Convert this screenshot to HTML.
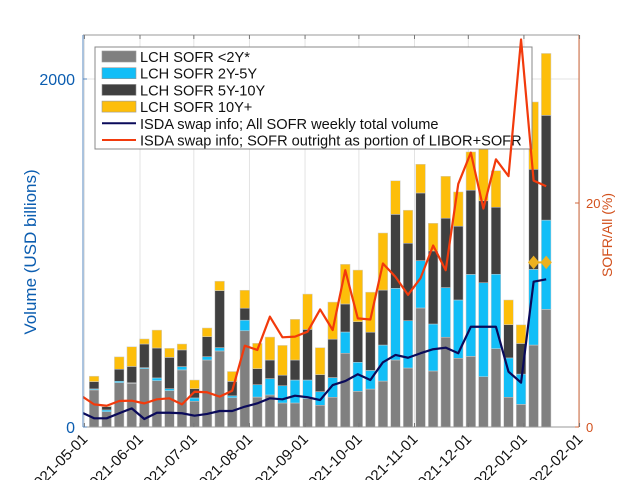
<!DOCTYPE html>
<html><head><meta charset="utf-8"><style>
body{margin:0;background:#fff;}
svg{display:block;font-family:"Liberation Sans",sans-serif;}
</style></head><body>
<svg id="chart" width="640" height="480" viewBox="0 0 640 480" xmlns="http://www.w3.org/2000/svg"></svg>
<script>
const gray=[213,88,255,251,335,266,209,328,148,385,437,168,553,172,184,138,138,163,125,171,424,205,218,264,385,339,684,322,516,395,406,289,450,171,130,471,676];
const blue=[6,10,8,3,6,16,11,19,19,19,19,11,61,71,94,99,132,107,78,113,122,167,107,207,412,272,272,270,285,335,471,540,428,226,174,435,513];
const dark=[42,19,69,94,136,172,180,96,53,115,328,83,69,92,107,61,115,291,98,221,161,233,220,316,425,445,389,420,399,424,484,471,385,191,176,575,602];
const yellow=[31,4,71,113,29,103,52,34,50,50,54,57,103,146,132,171,234,203,155,213,228,297,230,328,193,190,165,159,241,197,220,301,210,142,107,387,356];
const total=[84,50,50,79,107,46,82,82,79,65,75,92,92,117,136,165,159,180,171,155,241,264,303,270,372,414,398,424,447,456,424,576,576,576,318,255,835,849];
const pct=[2.77,2.02,1.9,2.32,2.35,2.11,2.47,2.56,2.02,3.15,3.1,2.71,3.24,7.26,6.88,9.85,8.01,8.07,8.51,10.5,8.66,14.0,9.7,9.6,14.6,13.4,11.8,13.3,16.2,14.0,21.7,24.5,19.5,23.9,22.4,34.6,22.0,21.5];
const markerVals=[946,946];
const monthLabels=["2021-05-01","2021-06-01","2021-07-01","2021-08-01","2021-09-01","2021-10-01","2021-11-01","2021-12-01","2022-01-01","2022-02-01"];
const monthDays=[0,31,61,92,123,153,184,214,245,276];
const leftTicks=[0,2000];
const rightTicks=[0,20];

const NS="http://www.w3.org/2000/svg";
const svg=document.getElementById('chart');
const L=83,R=579,T=35,B=427;
const xDay=d=>84.4+d*1.794;
const xBar=i=>xDay(5.4+7*i);
const xLine=i=>xDay(5.4+7*(i-1));
const yL=v=>B-v*0.174;
const yR=v=>B-v*11.2;
function mk(tag,attrs,parent){const e=document.createElementNS(NS,tag);for(const k in attrs)e.setAttribute(k,attrs[k]);(parent||svg).appendChild(e);return e;}

const defs=mk('defs',{});
const cp=mk('clipPath',{id:'clip'},defs);
mk('rect',{x:L,y:T,width:R-L,height:B-T},cp);

const grid=mk('g',{});


monthDays.forEach(d=>{const l=mk('line',{x1:xDay(d),x2:xDay(d),y1:T,y2:B,stroke:'#e3e3e3','stroke-width':1},grid);
});
leftTicks.forEach(v=>{const l=mk('line',{x1:L,x2:R,y1:yL(v),y2:yL(v),stroke:'#e3e3e3','stroke-width':1},grid);
});

const barsG=mk('g',{'clip-path':'url(#clip)'});


const series=[[gray,'#808080','gray'],[blue,'#12BEF7','blue'],[dark,'#404040','dark'],[yellow,'#FDBE0A','yellow']];
const bw=9.6;
for(let i=0;i<gray.length;i++){
  let base=0;
  series.forEach(([arr,col,nm])=>{
    const v=arr[i];const y0=yL(base),y1=yL(base+v);
    const r=mk('rect',{x:xBar(i)-bw/2,y:y1,width:bw,height:Math.max(0,y0-y1),fill:col,stroke:'#cfcfcf','stroke-width':0.5},barsG);
    
    
    base+=v;
  });
}

const lg=mk('g',{});


mk('rect',{x:95,y:47,width:437,height:102,fill:'#fff',stroke:'#888','stroke-width':1},lg);
const items=[['LCH SOFR <2Y*','#808080','box'],['LCH SOFR 2Y-5Y','#12BEF7','box'],['LCH SOFR 5Y-10Y','#404040','box'],['LCH SOFR 10Y+','#FDBE0A','box'],['ISDA swap info; All SOFR weekly total volume','#0a0a5a','line'],['ISDA swap info; SOFR outright as portion of LIBOR+SOFR','#F23A0C','line']];
items.forEach((it,k)=>{
  const cy=56.5+k*16.7;
  const e=mk('g',{},lg);
  
  
  if(it[2]==='box') mk('rect',{x:102,y:cy-5.5,width:34,height:11,fill:it[1],stroke:'#999','stroke-width':0.6},e);
  else mk('line',{x1:102,x2:136,y1:cy,y2:cy,stroke:it[1],'stroke-width':2},e);
  const t=mk('text',{x:140,y:cy+5.5,'font-size':14.6,fill:'#111'},e);t.textContent=it[0];
});

const linesG=mk('g',{'clip-path':'url(#clip)'});


const tp=mk('polyline',{points:total.map((v,i)=>xLine(i)+','+yL(v)).join(' '),fill:'none',stroke:'#0a0a5a','stroke-width':2.2,'stroke-linejoin':'round'},linesG);


const pp=mk('polyline',{points:pct.map((v,i)=>xLine(i)+','+yR(v)).join(' '),fill:'none',stroke:'#F23A0C','stroke-width':2.2,'stroke-linejoin':'round'},linesG);


const mi0=gray.length-markerVals.length;
const ml=mk('polyline',{points:markerVals.map((v,k)=>xBar(mi0+k)+','+yL(v)).join(' '),fill:'none',stroke:'#EDB120','stroke-width':2},linesG);


markerVals.forEach((v,k)=>{const x=xBar(mi0+k),y=yL(v);
  const d=mk('polygon',{points:`${x},${y-6} ${x+5},${y} ${x},${y+6} ${x-5},${y}`,fill:'#EDB120',stroke:'#EDB120'},linesG);
  });

const ax=mk('g',{});


mk('line',{x1:L,x2:R,y1:T,y2:T,stroke:'#999','stroke-width':1},ax);
mk('line',{x1:L,x2:R,y1:B,y2:B,stroke:'#999','stroke-width':1},ax);
const la=mk('line',{x1:L,x2:L,y1:T,y2:B,stroke:'#5a8ac0','stroke-width':1},ax);

const ra=mk('line',{x1:R,x2:R,y1:T,y2:B,stroke:'#D2693C','stroke-width':1},ax);

monthDays.forEach((d,k)=>{
  const x=xDay(d);
  mk('line',{x1:x,x2:x,y1:B,y2:B-4,stroke:'#777'},ax);
  mk('line',{x1:x,x2:x,y1:T,y2:T+4,stroke:'#777'},ax);
  const t=mk('text',{x:x+4,y:B+13,'font-size':15,fill:'#111','text-anchor':'end',transform:`rotate(-45 ${x+4} ${B+13})`},ax);
  
  t.textContent=monthLabels[k];
});
leftTicks.forEach(v=>{
  mk('line',{x1:L,x2:L+4,y1:yL(v),y2:yL(v),stroke:'#5a8ac0'},ax);
  const t=mk('text',{x:L-8,y:yL(v)+6,'font-size':16,fill:'#0B5DB0','text-anchor':'end'},ax);
  
  t.textContent=v;
});
rightTicks.forEach(v=>{
  mk('line',{x1:R-4,x2:R,y1:yR(v),y2:yR(v),stroke:'#D2693C'},ax);
  const t=mk('text',{x:R+7,y:yR(v)+5,'font-size':13,fill:'#D2501C'},ax);
  
  t.textContent=v;
});
const lt=mk('text',{x:36,y:252,'font-size':17,fill:'#0B5DB0','text-anchor':'middle',transform:'rotate(-90 36 252)'},ax);

lt.textContent='Volume (USD billions)';
const rt=mk('text',{x:612,y:235,'font-size':14,fill:'#D2501C','text-anchor':'middle',transform:'rotate(-90 612 235)'},ax);

rt.textContent='SOFR/All (%)';
</script>
</body></html>
